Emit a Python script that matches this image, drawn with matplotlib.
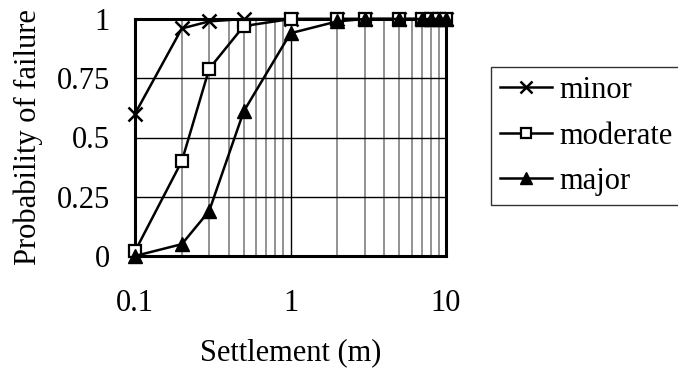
import matplotlib
matplotlib.use("Agg")
import matplotlib.pyplot as plt
from matplotlib.ticker import NullFormatter

plt.rcParams["font.family"] = ["Liberation Serif", "DejaVu Serif"]

settlement = [0.1, 0.2, 0.3, 0.5, 1, 2, 3, 5, 7, 8, 9, 10]
minor = [0.60, 0.96, 0.99, 1.0, 1.0, 1.0, 1.0, 1.0, 1.0, 1.0, 1.0, 1.0]
moderate = [0.02, 0.40, 0.79, 0.97, 1.0, 1.0, 1.0, 1.0, 1.0, 1.0, 1.0, 1.0]
major = [0.0, 0.05, 0.19, 0.61, 0.94, 0.99, 1.0, 1.0, 1.0, 1.0, 1.0, 1.0]
y_ticks = [0, 0.25, 0.5, 0.75, 1]
y_labels = ["0", "0.25", "0.5", "0.75", "1"]
x_ticks = [0.1, 1, 10]
x_labels = ["0.1", "1", "10"]

fig = plt.figure(figsize=(6.78, 3.78), dpi=100)
ax = fig.add_axes([135 / 678, 1 - 256 / 378, (446 - 135) / 678, (256 - 19) / 378])

ax.plot(settlement, minor, color="black", lw=1.8, marker="x", ms=10, mew=1.8,
        label="minor", clip_on=False, zorder=3)
ax.plot(settlement, moderate, color="black", lw=1.8, marker="s", ms=8, mfc="white",
        mew=1.6, label="moderate", clip_on=False, zorder=3)
ax.plot(settlement, major, color="black", lw=1.8, marker="^", ms=10,
        label="major", clip_on=False, zorder=3)

ax.set_xscale("log")
ax.set_xlim(0.1, 10)
ax.set_ylim(0, 1)
ax.set_yticks(y_ticks)
ax.set_yticklabels(y_labels)
ax.set_xticks(x_ticks)
ax.set_xticklabels(x_labels)
ax.xaxis.set_minor_formatter(NullFormatter())
ax.tick_params(axis="both", which="both", length=0, labelsize=22)
ax.tick_params(axis="x", pad=24)
ax.tick_params(axis="y", pad=18)

ax.grid(True, axis="y", color="black", lw=1.0)
ax.grid(True, axis="x", which="major", color="black", lw=1.0)
ax.grid(True, axis="x", which="minor", color="#808080", lw=1.2)
for s in ax.spines.values():
    s.set_linewidth(2.2)

ax.set_xlabel("Settlement (m)", fontsize=22, labelpad=14)
ax.set_ylabel("Probability of failure", fontsize=22, labelpad=10)

leg = fig.legend(loc="upper left", bbox_to_anchor=(491 / 678, 1 - 67 / 378),
                 fontsize=22, frameon=True, fancybox=False, edgecolor="black",
                 handlelength=1.7, handletextpad=0.23, borderpad=0.3,
                 labelspacing=0.54, borderaxespad=0, markerscale=0.85)
leg.get_frame().set_linewidth(1.0)

fig.savefig("out.png", dpi=100)
